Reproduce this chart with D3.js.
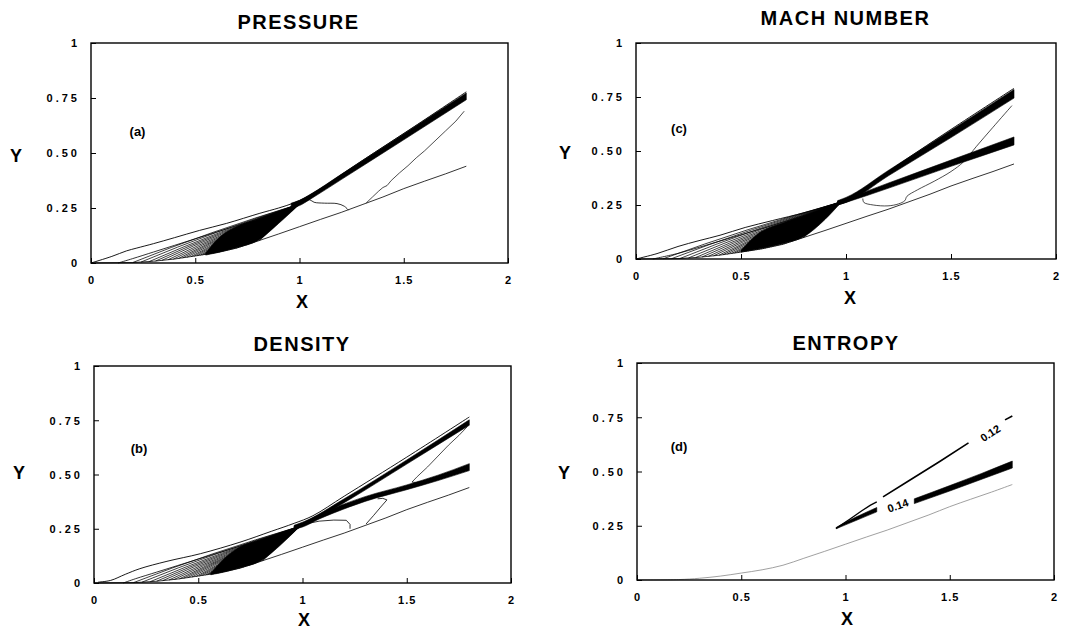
<!DOCTYPE html>
<html>
<head>
<meta charset="utf-8">
<script src="https://cdn.jsdelivr.net/npm/d3@7"></script>
<style>
  body { margin: 0; background: #fff; }
  svg text { font-family: "Liberation Sans", Arial, sans-serif; fill: #000; }
</style>
</head>
<body>
<svg id="fig" width="1078" height="631"></svg>
<script>
// ---- axes -------------------------------------------------------------
const xTicks = [0, 0.5, 1, 1.5, 2];
const xTickLabels = ["0", "0.5", "1", "1.5", "2"];
const yTicks = [0, 0.25, 0.5, 0.75, 1];
const yTickLabels = ["0", "0.25", "0.50", "0.75", "1"];

// ---- ramp surface (lower boundary of the flow domain) -------------------
const wall = [[0,0],[0.2,0.002],[0.3,0.008],[0.4,0.018],[0.5,0.032],[0.6,0.047],[0.7,0.068],
  [0.8,0.1],[0.9,0.132],[1.0,0.165],[1.1,0.198],[1.2,0.23],[1.3,0.265],[1.4,0.3],
  [1.5,0.338],[1.6,0.372],[1.7,0.405],[1.8,0.44]];

// ---- (a) pressure -----------------------------------------------------
const pOuter = [[0,0],[0.1,0.03],[0.17,0.055],[0.22,0.068],[0.3,0.088],[0.4,0.115],[0.52,0.148],
  [0.65,0.18],[0.81,0.226],[0.9,0.25],[0.97,0.272],[1.03,0.298],[1.1,0.338],[1.3,0.465],
  [1.55,0.62],[1.8,0.778]];
const pInner = [[0.13,0],[0.2,0.02],[0.3,0.05],[0.4,0.08],[0.5,0.11],[0.6,0.14],
  [0.7,0.17],[0.8,0.2],[0.9,0.232],[1.0,0.268]];
const pFanFeet = [0.2,0.24,0.28,0.31,0.34,0.37,0.395,0.42,0.44,0.46,0.48,0.495,0.51,0.525,
  0.535,0.545,0.555,0.565,0.575,0.585,0.595,0.605,0.615,0.625,0.635,0.645,0.655,0.665,0.675,
  0.685,0.695,0.705,0.715,0.725,0.735,0.745,0.755,0.765,0.775,0.785,0.795,0.805,0.81];
const pFocus = [1.0, 0.268];
const pCore = [[0.55,0.036,0.045],[0.62,0.05,0.12],[0.7,0.07,0.166],[0.8,0.102,0.198],
  [0.9,0.18,0.231],[0.99,0.258,0.266]];
const pShock = [[0.96,0.25,0.272],[1.0,0.261,0.285],[1.05,0.289,0.311],[1.2,0.379,0.403],
  [1.5,0.56,0.588],[1.8,0.742,0.773]];
const pReflect = [[1.32,0.273],[1.35,0.3],[1.38,0.327],[1.4,0.343],[1.42,0.352],[1.44,0.375],
  [1.48,0.41],[1.52,0.442],[1.56,0.478],[1.6,0.51],[1.65,0.555],[1.7,0.6],[1.75,0.645],[1.79,0.69]];
const pBubble = [[1.02,0.285],[1.05,0.287],[1.07,0.276],[1.12,0.272],[1.18,0.27],
  [1.215,0.258],[1.235,0.24]];

// ---- (c) Mach number --------------------------------------------------
const mOuter = [[0,0],[0.1,0.025],[0.2,0.058],[0.3,0.085],[0.4,0.11],[0.52,0.146],[0.65,0.178],
  [0.8,0.214],[0.9,0.242],[0.98,0.268],[1.05,0.305],[1.2,0.405],[1.5,0.6],[1.8,0.79]];
const mInner = [[0.08,0],[0.2,0.026],[0.3,0.054],[0.4,0.083],[0.5,0.112],[0.6,0.141],
  [0.7,0.171],[0.8,0.202],[0.9,0.233],[0.98,0.262]];
const mFanFeet = [0.13,0.17,0.21,0.25,0.285,0.315,0.345,0.37,0.395,0.415,0.435,0.455,0.47,
  0.485,0.5,0.515,0.525,0.535,0.545,0.555,0.565,0.575,0.585,0.595,0.605,0.615,0.625,0.635,
  0.645,0.655,0.665,0.675,0.685,0.695,0.705,0.715,0.725,0.735,0.745,0.755,0.765,0.775,0.785,
  0.795,0.8];
const mFocus = [0.98, 0.265];
const mCore = [[0.5,0.032,0.04],[0.58,0.046,0.116],[0.7,0.072,0.167],[0.8,0.104,0.199],
  [0.9,0.183,0.231],[0.97,0.255,0.26]];
const mShockUpper = [[0.96,0.25,0.27],[1.0,0.262,0.285],[1.2,0.384,0.409],[1.5,0.562,0.596],
  [1.8,0.745,0.785]];
const mShockLower = [[0.96,0.25,0.268],[1.0,0.262,0.28],[1.2,0.327,0.351],[1.5,0.429,0.458],
  [1.8,0.528,0.565]];
const mContour = [[1.08,0.28],[1.085,0.262],[1.13,0.25],[1.2,0.246],[1.25,0.255],[1.28,0.27],
  [1.29,0.29],[1.34,0.32],[1.42,0.36],[1.5,0.405],[1.56,0.45],[1.62,0.52],[1.7,0.61],[1.79,0.71]];

// ---- (b) density ------------------------------------------------------
const dOuter = [[0.02,0.004],[0.08,0.012],[0.15,0.04],[0.22,0.066],[0.35,0.1],[0.51,0.135],
  [0.7,0.188],[0.85,0.238],[0.96,0.275],[1.05,0.31],[1.2,0.4],[1.5,0.58],[1.8,0.765]];
const dInner = [[0.14,0],[0.2,0.02],[0.3,0.05],[0.4,0.08],[0.5,0.11],[0.6,0.14],
  [0.7,0.17],[0.8,0.2],[0.9,0.231],[0.99,0.262]];
const dFanFeet = [0.19,0.23,0.27,0.3,0.33,0.36,0.385,0.41,0.43,0.45,0.47,0.49,0.505,0.52,
  0.535,0.545,0.555,0.565,0.575,0.585,0.595,0.605,0.615,0.625,0.635,0.645,0.655,0.665,0.675,
  0.685,0.695,0.705,0.715,0.725,0.735,0.745,0.755,0.765,0.775,0.785,0.795,0.805,0.81];
const dFocus = [0.99, 0.262];
const dCore = [[0.56,0.038,0.046],[0.64,0.054,0.126],[0.7,0.07,0.166],[0.8,0.102,0.198],
  [0.9,0.18,0.229],[0.98,0.254,0.26]];
const dShockUpper = [[0.96,0.248,0.266],[1.0,0.262,0.28],[1.2,0.37,0.388],[1.5,0.548,0.567],
  [1.8,0.727,0.752]];
const dShockLower = [[0.96,0.248,0.262],[1.0,0.258,0.275],[1.08,0.295,0.315],[1.15,0.323,0.345],
  [1.3,0.376,0.398],[1.5,0.43,0.452],[1.65,0.472,0.497],[1.8,0.518,0.55]];
const dBubble = [[1.03,0.275],[1.08,0.285],[1.15,0.29],[1.21,0.289],[1.228,0.27],[1.228,0.25]];
const dRise = [[1.305,0.272],[1.34,0.31],[1.375,0.35],[1.405,0.383],[1.385,0.39],[1.36,0.388]];
const dFold = [[1.79,0.72],[1.75,0.68],[1.7,0.635],[1.65,0.585],[1.6,0.535],[1.55,0.49],
  [1.525,0.465],[1.545,0.463],[1.57,0.468]];

// ---- (d) entropy ------------------------------------------------------
const sBandNear = [[0.955,0.236,0.242],[1.05,0.274,0.29],[1.15,0.314,0.334]];
const sBandFar = [[1.33,0.352,0.374],[1.5,0.41,0.435],[1.65,0.463,0.49],[1.8,0.516,0.548]];
const s12Near = [[0.955,0.238],[1.02,0.28],[1.08,0.32],[1.12,0.345],[1.15,0.36]];
const s12Mid = [[1.18,0.383],[1.3,0.455],[1.45,0.545],[1.59,0.632]];
const s12Far = [[1.765,0.738],[1.8,0.756]];
const sLabelText = ["0.12", "0.14"];
const sLabelX = [1.694, 1.251];
const sLabelY = [0.677, 0.343];

// ----------------------------------------------------------------------
const svg = d3.select("#fig");

const panels = [
  { key: "p", title: "PRESSURE", tag: "(a)", tagFont: "Liberation Serif",
    frame: { l: 91, r: 508, t: 43, b: 263 }, titleY: 29, titleX: 298.5,
    xLab: [302, 308], yLab: [16, 162], tagPos: [137.5, 136] },
  { key: "m", title: "MACH NUMBER", tag: "(c)", tagFont: "Liberation Sans",
    frame: { l: 636, r: 1056, t: 43, b: 259 }, titleY: 25, titleX: 845.5,
    xLab: [850, 304], yLab: [565, 159], tagPos: [679, 133] },
  { key: "d", title: "DENSITY", tag: "(b)", tagFont: "Liberation Serif",
    frame: { l: 94, r: 511, t: 366, b: 583 }, titleY: 351, titleX: 302,
    xLab: [304, 626], yLab: [19, 479], tagPos: [139, 453] },
  { key: "s", title: "ENTROPY", tag: "(d)", tagFont: "Liberation Serif",
    frame: { l: 637, r: 1054, t: 363, b: 580 }, titleY: 350, titleX: 846,
    xLab: [847, 625], yLab: [564, 479], tagPos: [679, 451] }
];

const wallY = d3.scaleLinear().domain(wall.map(d => d[0])).range(wall.map(d => d[1]));

panels.forEach(P => {
  const f = P.frame;
  const sx = d3.scaleLinear().domain([0, 2]).range([f.l, f.r]);
  const sy = d3.scaleLinear().domain([0, 1]).range([f.b, f.t]);
  const g = svg.append("g");

  const line = d3.line().x(d => sx(d[0])).y(d => sy(d[1]));
  const smooth = d3.line().x(d => sx(d[0])).y(d => sy(d[1])).curve(d3.curveCatmullRom);
  const band = d3.area().x(d => sx(d[0])).y0(d => sy(d[1])).y1(d => sy(d[2]))
    .curve(d3.curveMonotoneX);

  const plot = g.append("g");
  const stroke = (pts, w, col, gen) => plot.append("path").attr("d", (gen || line)(pts))
    .attr("fill", "none").attr("stroke", col || "#000").attr("stroke-width", w || 0.8)
    .attr("stroke-linejoin", "round");
  const fill = pts => plot.append("path").attr("d", band(pts)).attr("fill", "#000")
    .attr("stroke", "#000").attr("stroke-width", 0.6);

  // compression fan: each contour leaves the ramp and runs into the focus
  const fan = (feet, focus) => feet.forEach(x0 => {
    const y0 = wallY(x0);
    const c = [x0 + 0.45 * (focus[0] - x0), y0 + 0.52 * (focus[1] - y0)];
    const p = d3.path();
    p.moveTo(sx(x0), sy(y0));
    p.quadraticCurveTo(sx(c[0]), sy(c[1]), sx(focus[0]), sy(focus[1]));
    plot.append("path").attr("d", p.toString()).attr("fill", "none")
      .attr("stroke", "#000").attr("stroke-width", 0.75);
  });

  if (P.key === "p") {
    stroke(wall);
    fill(pCore);
    fan(pFanFeet, pFocus);
    stroke(pInner, 0.8, "#000", smooth);
    stroke(pOuter, 0.9, "#000", smooth);
    fill(pShock);
    stroke(pReflect, 0.7);
    stroke(pBubble, 0.8, "#000", smooth);
  } else if (P.key === "m") {
    stroke(wall);
    fill(mCore);
    fan(mFanFeet, mFocus);
    stroke(mInner, 0.8, "#000", smooth);
    stroke(mOuter, 0.9, "#000", smooth);
    fill(mShockUpper);
    fill(mShockLower);
    stroke(mContour, 0.7, "#000", smooth);
  } else if (P.key === "d") {
    stroke(wall);
    fill(dCore);
    fan(dFanFeet, dFocus);
    stroke(dInner, 0.8, "#000", smooth);
    stroke(dOuter, 0.9, "#000", smooth);
    fill(dShockUpper);
    fill(dShockLower);
    stroke(dBubble, 0.8);
    stroke(dRise, 0.8);
    stroke(dFold, 0.7);
  } else {
    stroke(wall, 0.8, "#888", smooth);
    fill(sBandNear);
    fill(sBandFar);
    stroke(s12Near, 1.3);
    stroke(s12Mid, 1.6);
    stroke(s12Far, 1.6);
    const ang = [-33, -19];
    sLabelText.forEach((t, i) => {
      g.append("text").attr("transform",
          `translate(${sx(sLabelX[i])},${sy(sLabelY[i])}) rotate(${ang[i]})`)
        .attr("text-anchor", "middle").attr("dy", "0.36em")
        .attr("font-size", 11).attr("font-weight", "bold").text(t);
    });
  }

  // inward ticks, bottom and left
  const ax = g.append("g").attr("transform", `translate(0,${f.b})`)
    .call(d3.axisBottom(sx).tickValues(xTicks).tickFormat((d, i) => xTickLabels[i])
      .tickSizeInner(-5).tickSizeOuter(0));
  const ay = g.append("g").attr("transform", `translate(${f.l},0)`)
    .call(d3.axisLeft(sy).tickValues(yTicks).tickFormat((d, i) => yTickLabels[i])
      .tickSizeInner(-5).tickSizeOuter(0));
  [ax, ay].forEach(a => {
    a.select(".domain").remove();
    a.selectAll("line").attr("stroke", "#000").attr("stroke-width", 1);
    a.selectAll("text").attr("font-family", "Liberation Sans, Arial, sans-serif")
      .attr("font-weight", "bold").attr("font-size", 11);
  });
  ax.selectAll("text").attr("y", 17).attr("dy", "0.36em").attr("letter-spacing", 1);
  ay.selectAll("text").attr("x", -11).attr("dy", "0.36em").attr("letter-spacing", 3);

  // frame
  g.append("rect").attr("x", f.l).attr("y", f.t).attr("width", f.r - f.l)
    .attr("height", f.b - f.t).attr("fill", "none").attr("stroke", "#000")
    .attr("stroke-width", 1.4);

  // titles and axis names
  g.append("text").attr("x", P.titleX).attr("y", P.titleY).attr("text-anchor", "middle")
    .attr("font-size", 20).attr("font-weight", "bold").attr("letter-spacing", 1.5)
    .text(P.title);
  g.append("text").attr("x", P.xLab[0]).attr("y", P.xLab[1]).attr("text-anchor", "middle")
    .attr("font-size", 18).attr("font-weight", "bold").text("X");
  g.append("text").attr("x", P.yLab[0]).attr("y", P.yLab[1]).attr("text-anchor", "middle")
    .attr("font-size", 18).attr("font-weight", "bold").text("Y");
  g.append("text").attr("x", P.tagPos[0]).attr("y", P.tagPos[1]).attr("text-anchor", "middle")
    .attr("font-family", P.tagFont).attr("font-size", 13).attr("font-weight", "bold")
    .text(P.tag);
});
</script>
</body>
</html>
